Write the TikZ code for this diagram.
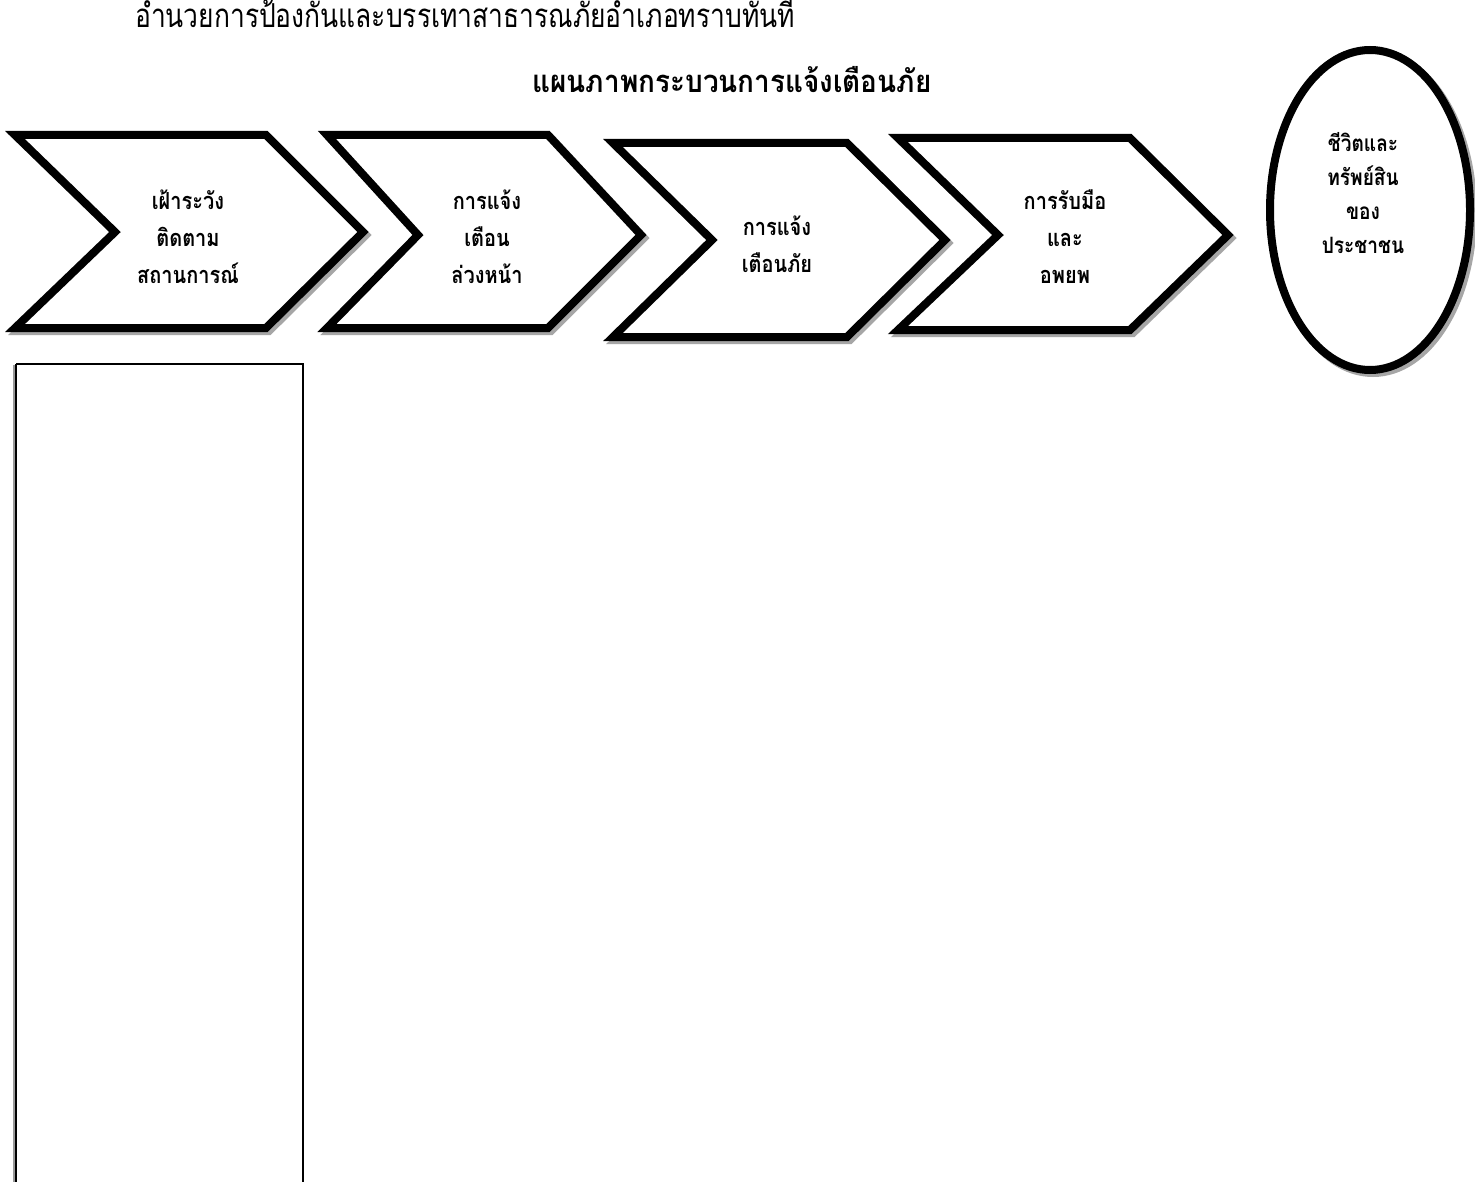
\documentclass[tikz,border=0pt]{standalone}
\usepackage{fontspec}
\newfontfamily\thai[Script=Thai]{Loma}
\newcommand\sxx[1]{\scalebox{0.85}[1]{#1}}
\begin{document}
\begin{tikzpicture}[x=1pt,y=-1pt,
  chev/.style={draw=black,line width=8pt,fill=white,line join=miter,miter limit=10},
  chevshadow/.style={draw=black!35,line width=8pt,line join=miter,miter limit=10},
  lbl/.style={font=\thai\bfseries\fontsize{23.5}{37}\selectfont,align=center,inner sep=0pt},
  box/.style={draw=black,line width=1.5pt}]
\useasboundingbox (0,0) rectangle (1475,1182);
\fill[white] (0,0) rectangle (1475,1182);
% top text
\node[font=\thai\fontsize{33}{36}\selectfont,inner sep=0pt] (top) at (465,14) {\scalebox{0.8}[1]{อำนวยการป้องกันและบรรเทาสาธารณภัยอำเภอทราบทันที}};
\node[font=\thai\bfseries\fontsize{31}{32}\selectfont,inner sep=0pt] (title) at (732,80) {\scalebox{0.9}[1]{แผนภาพกระบวนการแจ้งเตือนภัย}};
% chevrons: shadows
\foreach \a/\b/\c/\d/\e/\f/\g in {
  15/135/266/328/363/232/115,
  327/135/548/328/641/235/418,
  613/143/847/337/945/240/712,
  898/138/1130/330/1228/235/998}{
  \draw[chevshadow,shift={(3,3)}] (\a,\b) -- (\c,\b) -- (\e,\f) -- (\c,\d) -- (\a,\d) -- (\g,\f) -- cycle;
}
\draw[chev] (15,135) coordinate (c1) -- (266,135) -- (363,232) -- (266,328) -- (15,328) -- (115,232) -- cycle;
\draw[chev] (327,135) coordinate (c2) -- (548,135) -- (641,235) -- (548,328) -- (327,328) -- (418,235) -- cycle;
\draw[chev] (613,143) coordinate (c3) -- (847,143) -- (945,240) -- (847,337) -- (613,337) -- (712,240) -- cycle;
\draw[chev] (898,138) coordinate (c4) -- (1130,138) -- (1228,235) -- (1130,330) -- (898,330) -- (998,235) -- cycle;
% ellipse
\draw[draw=black!35,line width=8pt] (1373,213) ellipse [x radius=100, y radius=160];
\draw[draw=black,line width=8pt,fill=white] (1370,210) ellipse [x radius=100, y radius=160];
% labels
\node[lbl] (l1) at (188,237) {\sxx{เฝ้าระวัง}\\\sxx{ติดตาม}\\\sxx{สถานการณ์}};
\node[lbl] (l2) at (487,237) {\sxx{การแจ้ง}\\\sxx{เตือน}\\\sxx{ล่วงหน้า}};
\node[lbl] (l3) at (777,244) {\sxx{การแจ้ง}\\\sxx{เตือนภัย}};
\node[lbl] (l4) at (1065,237) {\sxx{การรับมือ}\\\sxx{และ}\\\sxx{อพยพ}};
\node[lbl,font=\thai\bfseries\fontsize{22.5}{34}\selectfont] (l5) at (1363,193) {\sxx{ชีวิตและ}\\\sxx{ทรัพย์สิน}\\\sxx{ของ}\\\sxx{ประชาชน}};
% rectangle
\draw[draw=black!40,line width=1.5pt] (14,365) -- (14,1190);
\draw[box] (16,364) -- (303,364) -- (303,1190);
\draw[box] (16,364) -- (16,1190);
\end{tikzpicture}
\end{document}
